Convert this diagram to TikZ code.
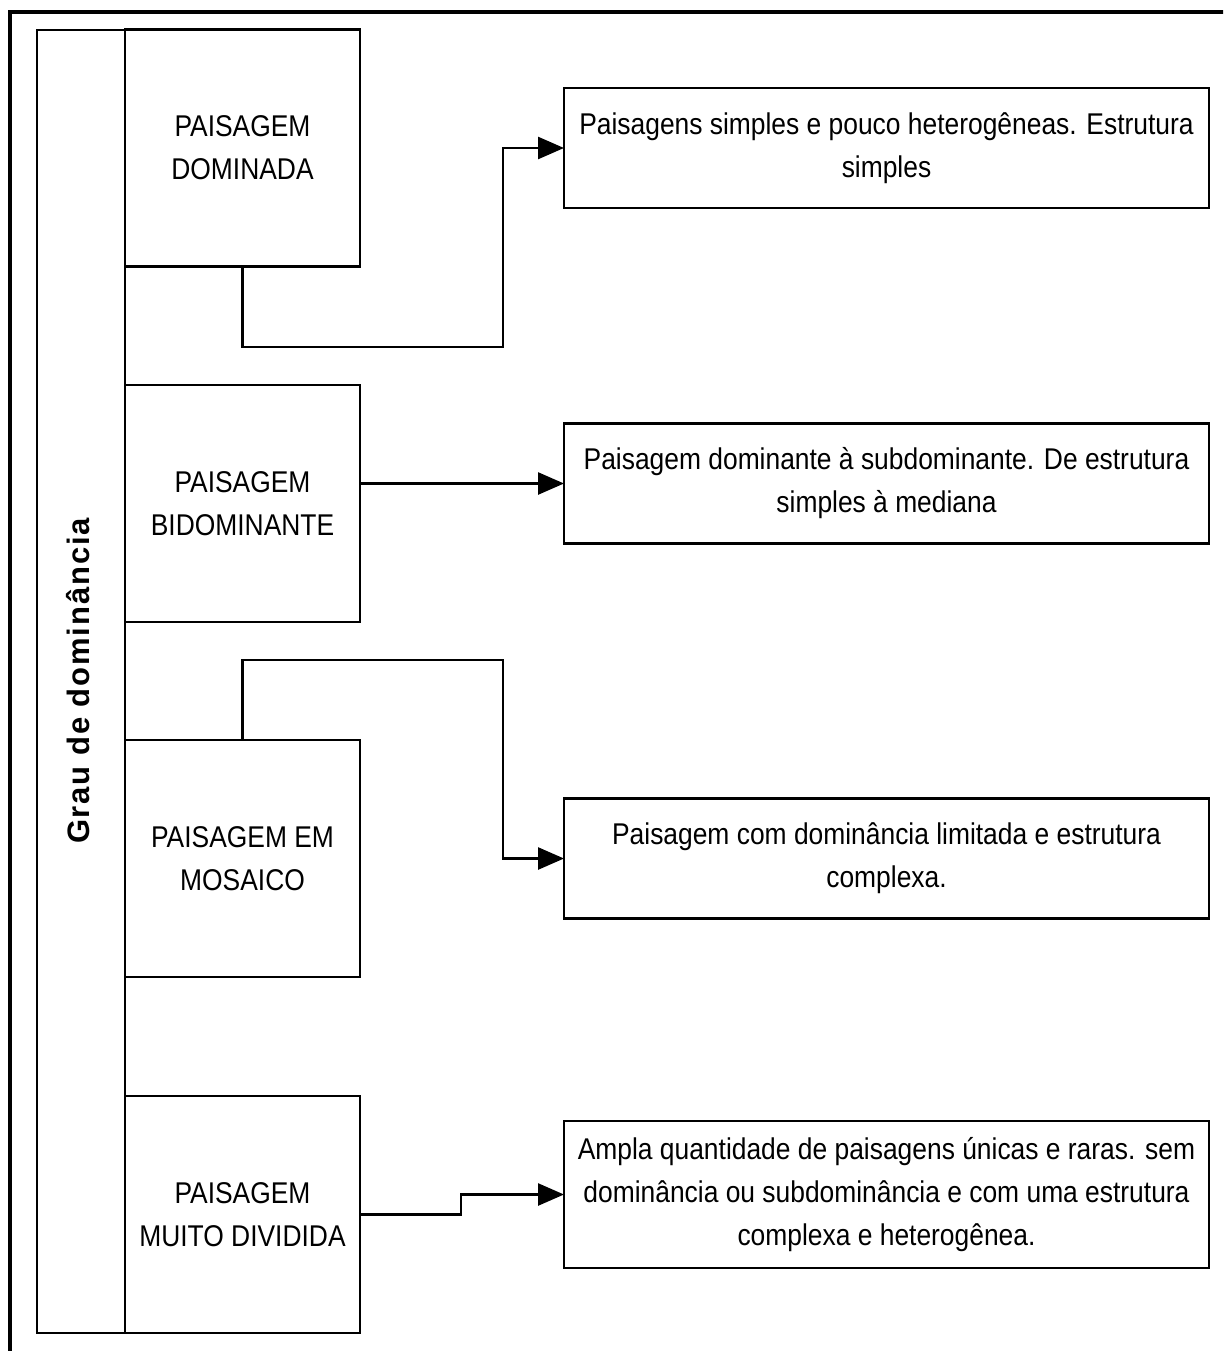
\documentclass[tikz,border=0pt]{standalone}
\usepackage{fontspec}
\setmainfont{Liberation Sans}
\newfontfamily\diagfont[FakeStretch=0.88]{Liberation Sans}
\newfontfamily\diaglabel[LetterSpace=6]{Liberation Sans}
\usetikzlibrary{arrows.meta,positioning}
\tikzset{
  diagarr/.style={-{Triangle[length=26pt,width=22pt]}, line width=2.6pt},
  diagnode/.style={draw, line width=2.8pt, align=center, inner sep=0pt, outer sep=0pt},
  diagtext/.style={font=\fontsize{30}{43}\selectfont\diagfont},
}

\begin{document}
\begin{tikzpicture}[
  x=1pt, y=-1pt,
  tipo/.style={diagnode, diagtext, minimum width=235pt, minimum height=237pt},
  desc/.style={diagnode, diagtext, minimum width=645pt, minimum height=120pt},
]
  \useasboundingbox (0,0) rectangle (1223,1351);
  \clip (0,0) rectangle (1223,1351);
  \draw[line width=4pt] (10,1380) |- (1250,12);

  \node[diagnode, minimum width=88pt, minimum height=1303pt] (col) at (81,681.5) {};
  \node[rotate=90, font=\fontsize{31}{31}\selectfont\diaglabel\bfseries] (grau) at (78,681) {Grau de dominância};

  \foreach \i/\y/\t in {1/148/{PAISAGEM\\DOMINADA},
                        2/503.5/{PAISAGEM\\BIDOMINANTE},
                        3/858.5/{PAISAGEM EM\\MOSAICO},
                        4/1214.5/{PAISAGEM\\MUITO DIVIDIDA}}
    \node[tipo] (ls\i) at (242.5,\y) {\t};

  \node[desc] (ds1) at (886.5,148) {Paisagens simples e pouco heterogêneas. Estrutura\\simples};
  \node[desc] (ds2) at (886.5,483.5) {Paisagem dominante à subdominante. De estrutura\\simples à mediana};
  \node[desc] (ds3) at (886.5,858.5) {Paisagem com dominância limitada e estrutura\\complexa.};
  \node[desc, minimum height=147pt] (ds4) at (886.5,1194.5) {Ampla quantidade de paisagens únicas e raras. sem\\dominância ou subdominância e com uma estrutura\\complexa e heterogênea.};

  \coordinate (j1) at (503,347);
  \coordinate (j3) at (503,660);
  \coordinate (j4) at (461,1214.5);

  \draw[diagarr] (ls1.south) |- (j1) |- (ds1.west);
  \draw[diagarr] (ls2.east |- ds2.west) -- (ds2.west);
  \draw[diagarr] (ls3.north) |- (j3) |- (ds3.west);
  \draw[diagarr] (ls4.east) -- (j4) |- (ds4.west);
\end{tikzpicture}
\end{document}
